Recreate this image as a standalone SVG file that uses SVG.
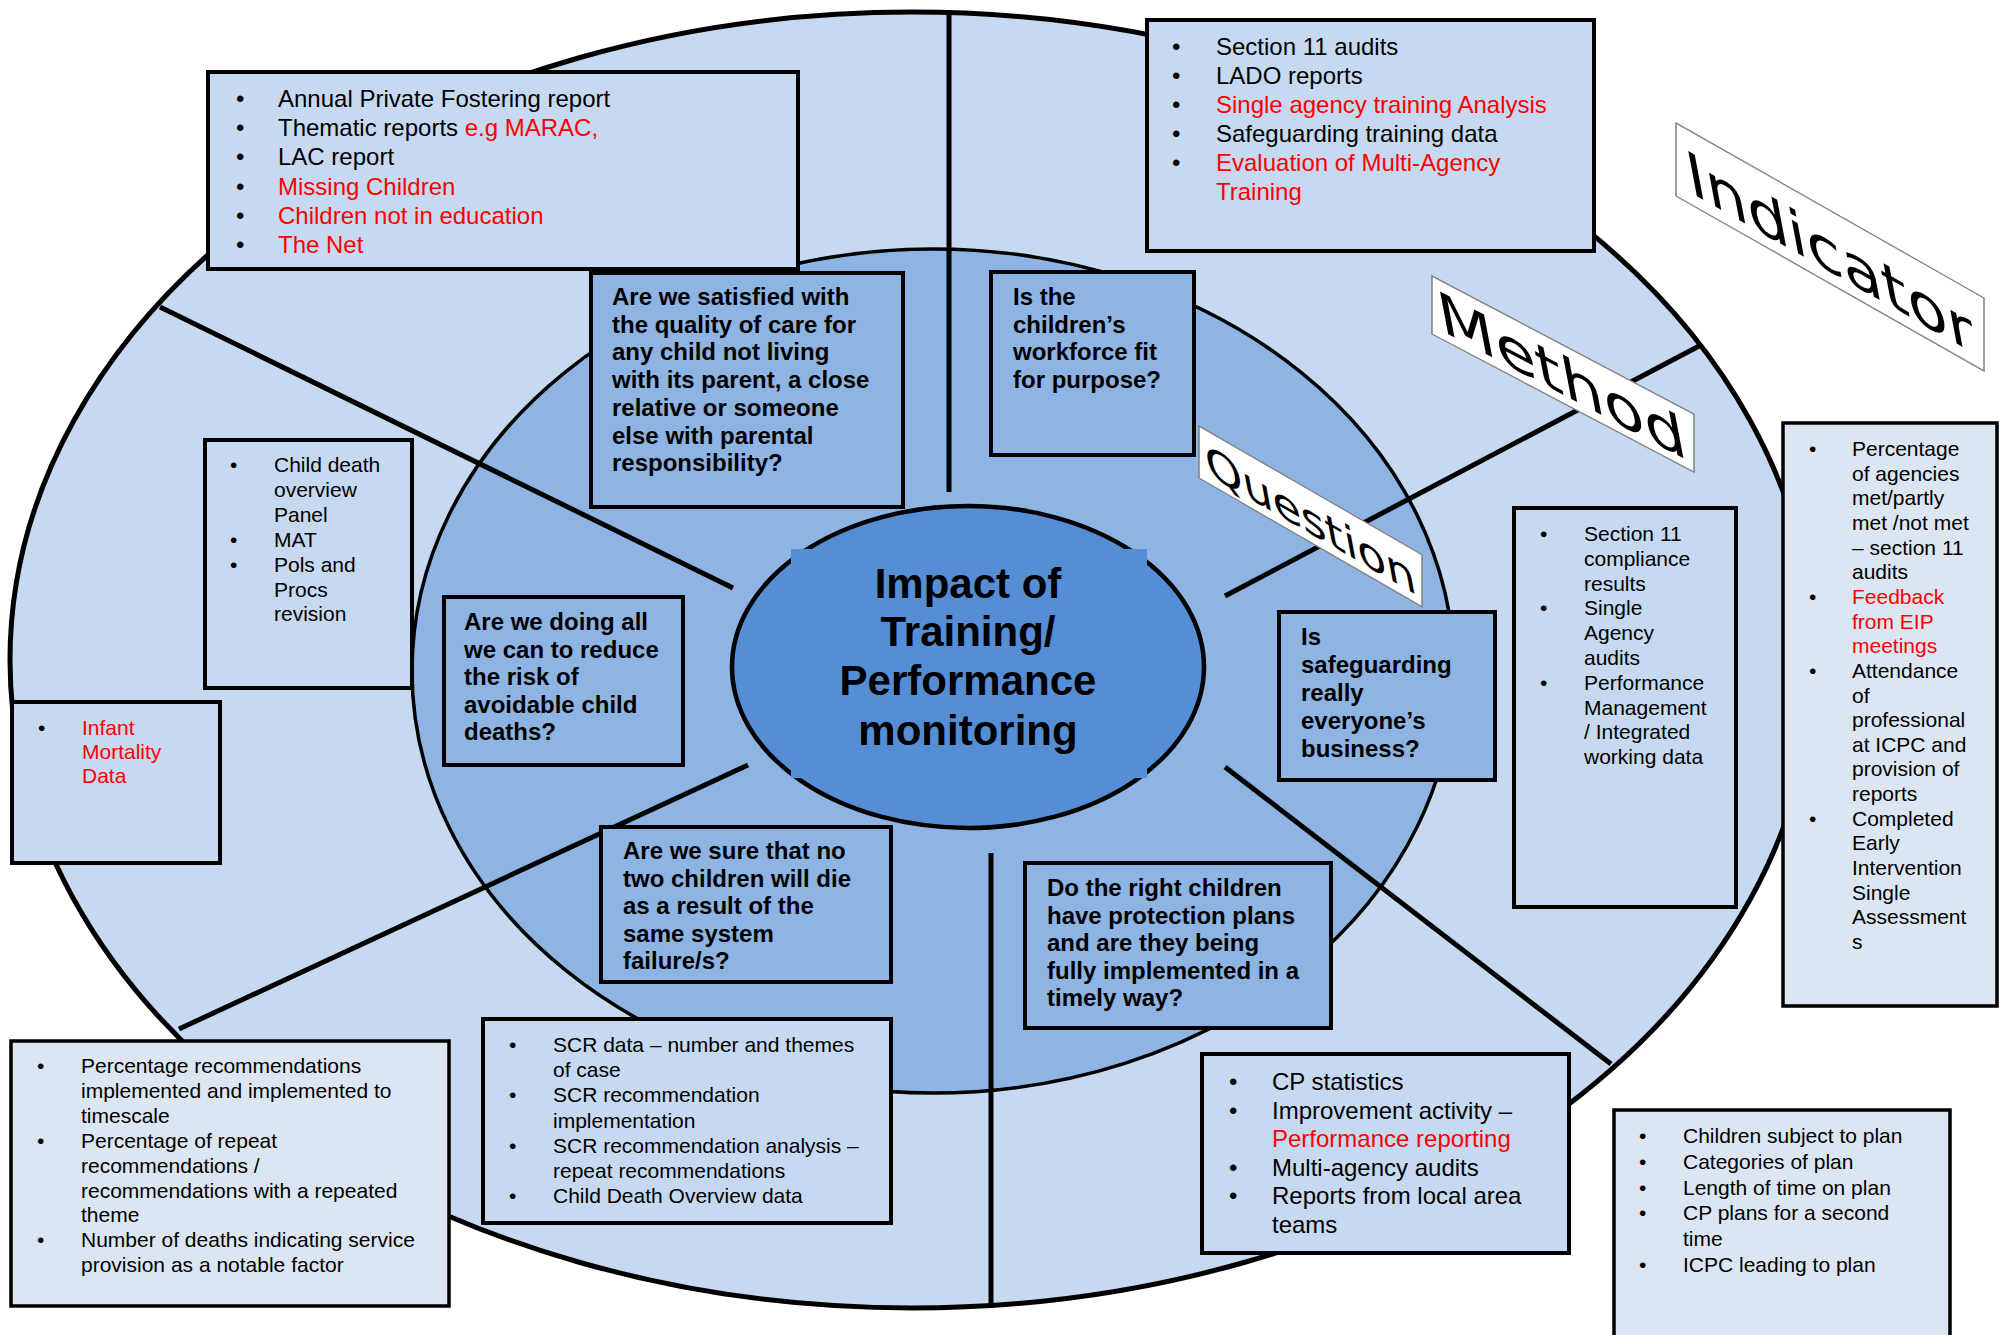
<svg xmlns="http://www.w3.org/2000/svg" width="2005" height="1335" viewBox="0 0 2005 1335">
  <style>
    .ring-outer { fill: #C6D9F1; stroke: #000; stroke-width: 5; }
    .ring-inner { fill: #8EB4E3; stroke: #000; stroke-width: 3.5; }
    .hub { fill: #558ED5; stroke: #000; stroke-width: 4.5; }
    .spoke { stroke: #000; stroke-width: 5; stroke-linecap: butt; }
    .box { fill: #C6D9F1; stroke: #000; stroke-width: 4; }
    .box-light { fill: #DCE6F2; stroke: #000; stroke-width: 3.5; }
    .qbox { fill: #8EB4E3; stroke: #000; stroke-width: 4; }
    .tag { fill: #fff; stroke: #808080; stroke-width: 1.5; }
    .l24 { font-family: "Liberation Sans", Arial, sans-serif; font-size: 24px; fill: #000; }
    .l21 { font-family: "Liberation Sans", Arial, sans-serif; font-size: 21px; fill: #000; }
    .q { font-family: "Liberation Sans", Arial, sans-serif; font-size: 24px; font-weight: bold; fill: #000; }
    .hub-text { font-family: "Liberation Sans", Arial, sans-serif; font-size: 42px; font-weight: bold; fill: #000; text-anchor: middle; }
    .tag-text { font-family: "DejaVu Sans", Verdana, sans-serif; fill: #000; text-anchor: middle; }
    .red { fill: #FF0000; }
  </style>

  <!-- rings -->
  <ellipse class="ring-outer" cx="912" cy="660" rx="902" ry="648"/>
  <ellipse class="ring-inner" cx="933" cy="671" rx="521" ry="422"/>

  <!-- spokes -->
  <g id="connectors">
    <line class="spoke" x1="949" y1="13" x2="949" y2="492"/>
    <line class="spoke" x1="160" y1="307" x2="733" y2="588"/>
    <line class="spoke" x1="179" y1="1029" x2="748" y2="765"/>
    <line class="spoke" x1="991" y1="853" x2="991" y2="1306"/>
    <line class="spoke" x1="1225" y1="767" x2="1611" y2="1064"/>
    <line class="spoke" x1="1225" y1="596" x2="1701" y2="345"/>
  </g>

  <!-- hub -->
  <g id="hub">
    <ellipse class="hub" cx="968" cy="667" rx="236" ry="161"/>
    <rect x="791" y="549" width="356" height="229" fill="#558ED5"/>
    <text class="hub-text" x="968" y="598">Impact of</text>
    <text class="hub-text" x="968" y="646">Training/</text>
    <text class="hub-text" x="968" y="695">Performance</text>
    <text class="hub-text" x="968" y="745">monitoring</text>
  </g>

  <!-- method: reports -->
  <g id="method-reports">
    <rect class="box" x="208" y="72" width="590" height="197"/>
    <g class="l24">
      <text x="236" y="107">•</text><text x="278" y="107">Annual Private Fostering report</text>
      <text x="236" y="136">•</text><text x="278" y="136">Thematic reports <tspan class="red">e.g MARAC,</tspan></text>
      <text x="236" y="165">•</text><text x="278" y="165">LAC report</text>
      <text x="236" y="195">•</text><text x="278" y="195" class="red">Missing Children</text>
      <text x="236" y="224">•</text><text x="278" y="224" class="red">Children not in education</text>
      <text x="236" y="253">•</text><text x="278" y="253" class="red">The Net</text>
    </g>
  </g>

  <!-- method: workforce -->
  <g id="method-workforce">
    <rect class="box" x="1147" y="20" width="447" height="231"/>
    <g class="l24">
      <text x="1172" y="55">•</text><text x="1216" y="55">Section 11 audits</text>
      <text x="1172" y="84">•</text><text x="1216" y="84">LADO reports</text>
      <text x="1172" y="113">•</text><text x="1216" y="113" class="red">Single agency training Analysis</text>
      <text x="1172" y="142">•</text><text x="1216" y="142">Safeguarding training data</text>
      <text x="1172" y="171">•</text><text x="1216" y="171" class="red">Evaluation of Multi-Agency</text>
      <text x="1216" y="200" class="red">Training</text>
    </g>
  </g>

  <!-- questions -->
  <g id="q-care">
    <rect class="qbox" x="591" y="273" width="312" height="234"/>
    <text class="q">
      <tspan x="612" y="305">Are we satisfied with</tspan>
      <tspan x="612" y="332.7">the quality of care for</tspan>
      <tspan x="612" y="360.4">any child not living</tspan>
      <tspan x="612" y="388.1">with its parent, a close</tspan>
      <tspan x="612" y="415.8">relative or someone</tspan>
      <tspan x="612" y="443.5">else with parental</tspan>
      <tspan x="612" y="471.2">responsibility?</tspan>
    </text>
  </g>

  <g id="q-workforce">
    <rect class="qbox" x="991" y="272" width="203" height="183"/>
    <text class="q">
      <tspan x="1013" y="305">Is the</tspan>
      <tspan x="1013" y="332.7">children’s</tspan>
      <tspan x="1013" y="360.4">workforce fit</tspan>
      <tspan x="1013" y="388.1">for purpose?</tspan>
    </text>
  </g>

  <g id="q-deaths">
    <rect class="qbox" x="444" y="597" width="239" height="168"/>
    <text class="q">
      <tspan x="464" y="630">Are we doing all</tspan>
      <tspan x="464" y="657.5">we can to reduce</tspan>
      <tspan x="464" y="685">the risk of</tspan>
      <tspan x="464" y="712.5">avoidable child</tspan>
      <tspan x="464" y="740">deaths?</tspan>
    </text>
  </g>

  <g id="q-business">
    <rect class="qbox" x="1279" y="612" width="216" height="168"/>
    <text class="q">
      <tspan x="1301" y="645">Is</tspan>
      <tspan x="1301" y="673">safeguarding</tspan>
      <tspan x="1301" y="701">really</tspan>
      <tspan x="1301" y="729">everyone’s</tspan>
      <tspan x="1301" y="757">business?</tspan>
    </text>
  </g>

  <g id="q-system">
    <rect class="qbox" x="601" y="827" width="290" height="155"/>
    <text class="q">
      <tspan x="623" y="859">Are we sure that no</tspan>
      <tspan x="623" y="886.5">two children will die</tspan>
      <tspan x="623" y="914">as a result of the</tspan>
      <tspan x="623" y="941.5">same system</tspan>
      <tspan x="623" y="969">failure/s?</tspan>
    </text>
  </g>

  <g id="q-plans">
    <rect class="qbox" x="1025" y="863" width="306" height="165"/>
    <text class="q">
      <tspan x="1047" y="896">Do the right children</tspan>
      <tspan x="1047" y="923.5">have protection plans</tspan>
      <tspan x="1047" y="951">and are they being</tspan>
      <tspan x="1047" y="978.5">fully implemented in a</tspan>
      <tspan x="1047" y="1006">timely way?</tspan>
    </text>
  </g>

  <!-- method: child deaths -->
  <g id="method-child-death">
    <rect class="box" x="205" y="440" width="207" height="248"/>
    <g class="l21">
      <text x="230" y="472">•</text>
      <text x="230" y="546.7">•</text>
      <text x="230" y="571.6">•</text>
      <text>
        <tspan x="274" y="472">Child death</tspan>
        <tspan x="274" y="496.9">overview</tspan>
        <tspan x="274" y="521.8">Panel</tspan>
        <tspan x="274" y="546.7">MAT</tspan>
        <tspan x="274" y="571.6">Pols and</tspan>
        <tspan x="274" y="596.5">Procs</tspan>
        <tspan x="274" y="621.4">revision</tspan>
      </text>
    </g>
  </g>

  <!-- indicator: infant mortality -->
  <g id="indicator-infant">
    <rect class="box" x="12" y="702" width="208" height="161"/>
    <g class="l21">
      <text x="38" y="735">•</text>
      <text class="red">
        <tspan x="82" y="735">Infant</tspan>
        <tspan x="82" y="759">Mortality</tspan>
        <tspan x="82" y="783">Data</tspan>
      </text>
    </g>
  </g>

  <!-- method: compliance -->
  <g id="method-compliance">
    <rect class="box" x="1514" y="508" width="222" height="399"/>
    <g class="l21">
      <text x="1540" y="541">•</text>
      <text x="1540" y="615.4">•</text>
      <text x="1540" y="689.8">•</text>
      <text>
        <tspan x="1584" y="541">Section 11</tspan>
        <tspan x="1584" y="565.8">compliance</tspan>
        <tspan x="1584" y="590.6">results</tspan>
        <tspan x="1584" y="615.4">Single</tspan>
        <tspan x="1584" y="640.2">Agency</tspan>
        <tspan x="1584" y="665">audits</tspan>
        <tspan x="1584" y="689.8">Performance</tspan>
        <tspan x="1584" y="714.6">Management</tspan>
        <tspan x="1584" y="739.4">/ Integrated</tspan>
        <tspan x="1584" y="764.2">working data</tspan>
      </text>
    </g>
  </g>

  <!-- indicator: agencies -->
  <g id="indicator-agencies">
    <rect class="box-light" x="1783" y="423" width="214" height="583"/>
    <g class="l21">
      <text x="1809" y="456">•</text>
      <text x="1809" y="603.9">•</text>
      <text x="1809" y="677.9">•</text>
      <text x="1809" y="826">•</text>
      <text>
        <tspan x="1852" y="456">Percentage</tspan>
        <tspan x="1852" y="480.65">of agencies</tspan>
        <tspan x="1852" y="505.3">met/partly</tspan>
        <tspan x="1852" y="529.95">met /not met</tspan>
        <tspan x="1852" y="554.6">– section 11</tspan>
        <tspan x="1852" y="579.25">audits</tspan>
        <tspan x="1852" y="603.9" class="red">Feedback</tspan>
        <tspan x="1852" y="628.55" class="red">from EIP</tspan>
        <tspan x="1852" y="653.2" class="red">meetings</tspan>
        <tspan x="1852" y="677.85">Attendance</tspan>
        <tspan x="1852" y="702.5">of</tspan>
        <tspan x="1852" y="727.15">professional</tspan>
        <tspan x="1852" y="751.8">at ICPC and</tspan>
        <tspan x="1852" y="776.45">provision of</tspan>
        <tspan x="1852" y="801.1">reports</tspan>
        <tspan x="1852" y="825.75">Completed</tspan>
        <tspan x="1852" y="850.4">Early</tspan>
        <tspan x="1852" y="875.05">Intervention</tspan>
        <tspan x="1852" y="899.7">Single</tspan>
        <tspan x="1852" y="924.35">Assessment</tspan>
        <tspan x="1852" y="949">s</tspan>
      </text>
    </g>
  </g>

  <!-- method: serious case reviews -->
  <g id="method-scr">
    <rect class="box" x="483" y="1019" width="408" height="204"/>
    <g class="l21">
      <text x="509" y="1052">•</text>
      <text x="509" y="1102.3">•</text>
      <text x="509" y="1152.6">•</text>
      <text x="509" y="1203">•</text>
      <text>
        <tspan x="553" y="1052">SCR data – number and themes</tspan>
        <tspan x="553" y="1077.2">of case</tspan>
        <tspan x="553" y="1102.3">SCR recommendation</tspan>
        <tspan x="553" y="1127.5">implementation</tspan>
        <tspan x="553" y="1152.6">SCR recommendation analysis –</tspan>
        <tspan x="553" y="1177.8">repeat recommendations</tspan>
        <tspan x="553" y="1203">Child Death Overview data</tspan>
      </text>
    </g>
  </g>

  <!-- method: child protection -->
  <g id="method-cp">
    <rect class="box" x="1202" y="1054" width="367" height="199"/>
    <g class="l24">
      <text x="1229" y="1090">•</text>
      <text x="1229" y="1118.6">•</text>
      <text x="1229" y="1175.8">•</text>
      <text x="1229" y="1204.4">•</text>
      <text>
        <tspan x="1272" y="1090">CP statistics</tspan>
        <tspan x="1272" y="1118.6">Improvement activity –</tspan>
        <tspan x="1272" y="1147.2" class="red">Performance reporting</tspan>
        <tspan x="1272" y="1175.8">Multi-agency audits</tspan>
        <tspan x="1272" y="1204.4">Reports from local area</tspan>
        <tspan x="1272" y="1233">teams</tspan>
      </text>
    </g>
  </g>

  <!-- indicator: plans -->
  <g id="indicator-plans">
    <rect class="box-light" x="1614" y="1110" width="336" height="240"/>
    <g class="l21">
      <text x="1639" y="1143">•</text>
      <text x="1639" y="1168.8">•</text>
      <text x="1639" y="1194.6">•</text>
      <text x="1639" y="1220.4">•</text>
      <text x="1639" y="1272">•</text>
      <text>
        <tspan x="1683" y="1143">Children subject to plan</tspan>
        <tspan x="1683" y="1168.8">Categories of plan</tspan>
        <tspan x="1683" y="1194.6">Length of time on plan</tspan>
        <tspan x="1683" y="1220.4">CP plans for a second</tspan>
        <tspan x="1683" y="1246.2">time</tspan>
        <tspan x="1683" y="1272">ICPC leading to plan</tspan>
      </text>
    </g>
  </g>

  <!-- indicator: recommendations -->
  <g id="indicator-recommendations">
    <rect class="box-light" x="11" y="1041" width="438" height="265"/>
    <g class="l21">
      <text x="37" y="1073">•</text>
      <text x="37" y="1147.7">•</text>
      <text x="37" y="1246.5">•</text>
      <text>
        <tspan x="81" y="1073">Percentage recommendations</tspan>
        <tspan x="81" y="1097.9">implemented and implemented to</tspan>
        <tspan x="81" y="1122.8">timescale</tspan>
        <tspan x="81" y="1147.7">Percentage of repeat</tspan>
        <tspan x="81" y="1172.6">recommendations /</tspan>
        <tspan x="81" y="1197.5">recommendations with a repeated</tspan>
        <tspan x="81" y="1222.4">theme</tspan>
        <tspan x="81" y="1247.3">Number of deaths indicating service</tspan>
        <tspan x="81" y="1272.2">provision as a notable factor</tspan>
      </text>
    </g>
  </g>

  <!-- slanted legend tags -->
  <g id="tag-question" transform="translate(1199,426) skewY(30)">
    <rect class="tag" width="223" height="52"/>
    <text class="tag-text" font-size="47" transform="skewX(12) scale(1,0.85)" x="105" y="51">Question</text>
  </g>
  <g id="tag-method" transform="translate(1432,276) skewY(27.8)">
    <rect class="tag" width="262" height="58"/>
    <text class="tag-text" font-size="66" transform="skewX(12) scale(1,0.8)" x="123" y="62">Method</text>
  </g>
  <g id="tag-indicator" transform="translate(1676,123) skewY(29.6)">
    <rect class="tag" width="308" height="73"/>
    <text class="tag-text" font-size="65" transform="skewX(12) scale(1,0.85)" x="145" y="72">Indicator</text>
  </g>
</svg>
